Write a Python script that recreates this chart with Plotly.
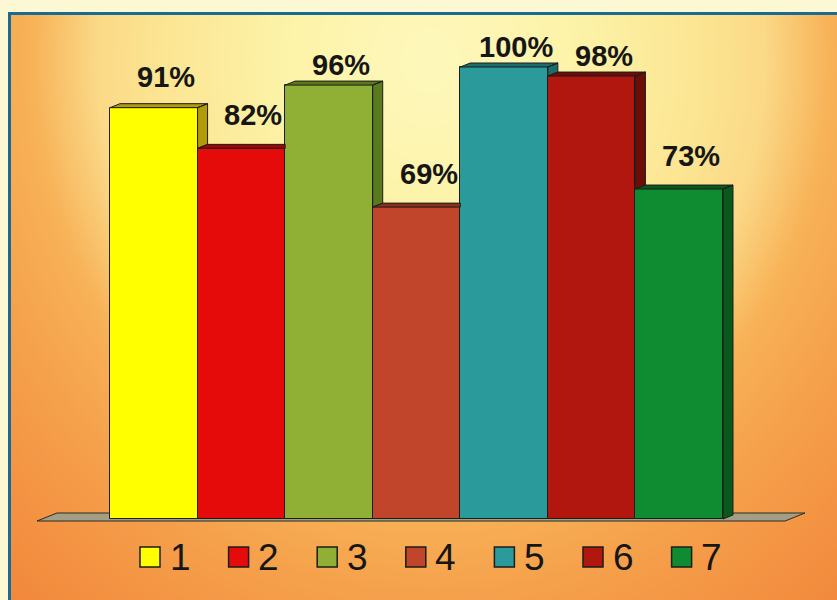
import base64
import struct
import zlib

import numpy as np
import plotly.graph_objects as go

# ---------------------------------------------------------------- data
categories = ["1", "2", "3", "4", "5", "6", "7"]
values = [91, 82, 96, 69, 100, 98, 73]
front_colors = ["#ffff00", "#e60b0b", "#8fb034", "#c0452b", "#2a9b9a", "#b2170f", "#0f8c32"]
side_colors = ["#b39a08", "#980806", "#5a7a1e", "#88301c", "#1b6e6c", "#6c0d08", "#09591d"]

# ---------------------------------------------------------------- geometry (pixels)
W, H = 837, 600
BAR_LEFT_PX = 110.0      # left edge of the first bar
BAR_PX = 87.57           # width of one category slot
ZERO_PY = 519.0          # pixel row of value 0
PX_PER_UNIT = 4.52       # pixels per percentage point
DEPTH_PX = (10.0, 4.0)   # 3-D extrusion offset (right, up)

FONT = "Liberation Sans, Arial, sans-serif"


def x_of(px):
    return (px - BAR_LEFT_PX) / BAR_PX - 0.5


def y_of(py):
    return (ZERO_PY - py) / PX_PER_UNIT


DX = DEPTH_PX[0] / BAR_PX
DY = DEPTH_PX[1] / PX_PER_UNIT


# ---------------------------------------------------------------- background gradient image
def png_uri(rgb):
    h, w, _ = rgb.shape
    raw = b"".join(b"\x00" + rgb[r].tobytes() for r in range(h))

    def chunk(tag, data):
        body = tag + data
        return struct.pack(">I", len(data)) + body + struct.pack(">I", zlib.crc32(body) & 0xFFFFFFFF)

    png = (b"\x89PNG\r\n\x1a\n"
           + chunk(b"IHDR", struct.pack(">IIBBBBB", w, h, 8, 2, 0, 0, 0))
           + chunk(b"IDAT", zlib.compress(raw, 9))
           + chunk(b"IEND", b""))
    return "data:image/png;base64," + base64.b64encode(png).decode()


def hex_rgb(c):
    c = c.lstrip("#")
    return [int(c[k:k + 2], 16) for k in (0, 2, 4)]


BORDER_X, BORDER_Y = 9.5, 13.5
gw, gh = int(W - BORDER_X), int(H - BORDER_Y)
gx, gy = np.meshgrid(np.arange(gw) + BORDER_X, np.arange(gh) + BORDER_Y)
rad = np.sqrt(((gx - 430) / 500.0) ** 2 + ((gy - 60) / 560.0) ** 2)
stops = [(0.0, "#fef8bc"), (0.3, "#fdf3a8"), (0.55, "#fce592"), (0.67, "#fbd987"),
         (0.8, "#f8b257"), (0.95, "#f6a24d"), (1.3, "#f2863a")]
sr = [s[0] for s in stops]
scol = np.array([hex_rgb(s[1]) for s in stops], dtype=float)
img = np.stack([np.interp(rad, sr, scol[:, k]) for k in range(3)], axis=-1)
img = np.clip(img, 0, 255).astype(np.uint8)
bg_uri = png_uri(img)

# ---------------------------------------------------------------- figure
idx = np.arange(len(values))
fig = go.Figure()

fig.add_trace(go.Bar(
    x=idx, y=values, width=1.0,
    marker=dict(color=front_colors, line=dict(color="#1c1c1c", width=1)),
    customdata=categories,
    hovertemplate="%{customdata}: %{y}%<extra></extra>",
))

# top and side faces of each extruded bar, hidden parts trimmed away
for i, v in enumerate(values):
    left, right = i - 0.5, i + 0.5
    nxt = values[i + 1] if i + 1 < len(values) else None
    xs, ys = [], []
    if nxt is not None and nxt >= v + DY:
        top = [(left, v), (left + DX, v + DY), (right, v + DY), (right, v)]
    else:
        top = [(left, v), (left + DX, v + DY), (right + DX, v + DY), (right, v)]
    polys = [top]
    if nxt is None:
        polys.append([(right, 0), (right + DX, DY), (right + DX, v + DY), (right, v)])
    elif nxt < v:
        polys.append([(right, nxt), (right + DX, nxt + DY), (right + DX, v + DY), (right, v)])
    for poly in polys:
        xs += [p[0] for p in poly] + [poly[0][0], None]
        ys += [p[1] for p in poly] + [poly[0][1], None]
    fig.add_trace(go.Scatter(
        x=xs, y=ys, mode="lines", fill="toself", fillcolor=side_colors[i],
        line=dict(color="#1c1c1c", width=1), hoverinfo="skip", showlegend=False,
    ))

# value labels
annotations = []
for i, v in enumerate(values):
    gap = 22 - 13 * float(np.clip((v - 90) / 6.0, 0, 1))
    annotations.append(dict(
        x=i + 12.0 / BAR_PX, y=v, xref="x", yref="y", text=f"{v}%",
        showarrow=False, xanchor="center", yanchor="bottom", yshift=gap - 7,
        font=dict(family=FONT, size=29, color="#161616", weight="bold"),
    ))

# legend row
shapes = []
LEG_X0, LEG_STEP, LEG_Y = 140.0, 88.6, 557.0
for k, (name, col) in enumerate(zip(categories, front_colors)):
    sx = LEG_X0 + k * LEG_STEP
    shapes.append(dict(
        type="rect", xref="paper", yref="paper",
        x0=sx / W, x1=(sx + 20) / W, y0=1 - (LEG_Y + 10) / H, y1=1 - (LEG_Y - 10) / H,
        fillcolor=col, line=dict(color="#1c1c1c", width=1.5), layer="above",
    ))
    annotations.append(dict(
        x=(sx + 27.5) / W, y=1 - (LEG_Y + 0.5) / H, xref="paper", yref="paper",
        text=name, showarrow=False, xanchor="left", yanchor="middle",
        font=dict(family=FONT, size=37, color="#161616"),
    ))

# floor slab under the bars
fx = [x_of(37), x_of(785), x_of(805), x_of(57)]
fy = [y_of(521), y_of(521), y_of(513), y_of(513)]
floor_path = "M " + " L ".join(f"{a},{b}" for a, b in zip(fx, fy)) + " Z"
shapes.append(dict(
    type="path", xref="x", yref="y", path=floor_path, layer="below",
    fillcolor="#a39f87", line=dict(color="#2a2a1e", width=1),
))

# frame line
shapes.append(dict(
    type="rect", xref="paper", yref="paper",
    x0=BORDER_X / W, x1=1.05, y0=-0.05, y1=1 - BORDER_Y / H,
    line=dict(color="#1b6a93", width=3), fillcolor="rgba(0,0,0,0)", layer="above",
))

fig.update_layout(
    width=W, height=H, autosize=False,
    margin=dict(l=0, r=0, t=0, b=0),
    paper_bgcolor="#fbf8d3", plot_bgcolor="rgba(0,0,0,0)",
    showlegend=False, bargap=0,
    xaxis=dict(visible=False, range=[x_of(0), x_of(W)], fixedrange=True),
    yaxis=dict(visible=False, range=[y_of(H), y_of(0)], fixedrange=True),
    images=[dict(
        source=bg_uri, xref="paper", yref="paper",
        x=BORDER_X / W, y=1 - BORDER_Y / H, sizex=1 - BORDER_X / W, sizey=1 - BORDER_Y / H,
        xanchor="left", yanchor="top", sizing="stretch", layer="below",
    )],
    shapes=shapes,
    annotations=annotations,
)

fig.write_html("out.html")
